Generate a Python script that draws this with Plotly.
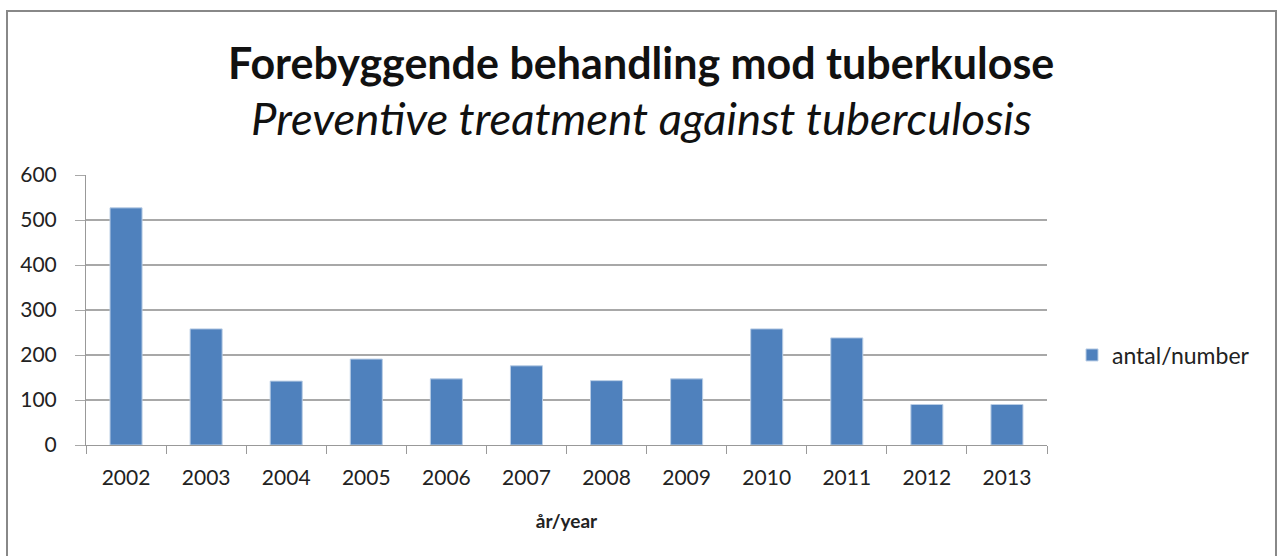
import plotly.graph_objects as go

years = ["2002", "2003", "2004", "2005", "2006", "2007", "2008", "2009", "2010", "2011", "2012", "2013"]
counts = [527, 258, 142, 191, 147, 176, 143, 147, 258, 238, 90, 90]
series_name = "antal/number"
title_main = "Forebyggende behandling mod tuberkulose"
title_sub = "Preventive treatment against tuberculosis"
x_title = "år/year"
y_ticks = [0, 100, 200, 300, 400, 500, 600]

FONT = "Lato, 'Open Sans', sans-serif"

fig = go.Figure()
fig.add_trace(go.Bar(
    x=years, y=counts, name=series_name,
    marker=dict(color="#4F81BD", line=dict(color="#B9CDE5", width=1)),
    showlegend=True,
))

L, R, T, B = 86, 1047, 175, 445
W, H = 1278, 556
pw, ph = R - L, B - T

def px(x):
    return (x - L) / pw

def py(y):
    return (B - y) / ph

fig.update_layout(
    width=W, height=H,
    margin=dict(l=L, r=W - R, t=T, b=H - B, pad=0),
    paper_bgcolor="white", plot_bgcolor="white",
    font=dict(family=FONT, size=20, color="#222"),
    bargap=0.6,
    showlegend=True,
    legend=dict(x=px(1072), y=py(355), xanchor="left", yanchor="middle",
                font=dict(size=23, color="#222"), bgcolor="rgba(0,0,0,0)",
                itemwidth=30),
    xaxis=dict(
        type="category", showgrid=False, showline=True, linecolor="#999", linewidth=1,
        ticks="outside", tickson="boundaries", ticklen=8, tickcolor="#999",
        tickfont=dict(size=21, color="#222"), ticklabelstandoff=14,
        title=dict(text="<b>" + x_title + "</b>", font=dict(size=19, color="#222"), standoff=26),
    ),
    yaxis=dict(
        range=[0, 600], tickvals=y_ticks, showgrid=True, gridcolor="#A8A8A8", gridwidth=1.5,
        showline=True, linecolor="#999", linewidth=1, ticks="outside", ticklen=10,
        tickcolor="#A8A8A8", tickfont=dict(size=21, color="#222"), ticklabelstandoff=14,
        zeroline=False,
    ),
    annotations=[
        dict(text="<b>" + title_main + "</b>", xref="paper", yref="paper",
             x=px(641), y=py(62), xanchor="center", yanchor="middle", showarrow=False,
             font=dict(size=43, color="#111", family=FONT)),
        dict(text="<i>" + title_sub + "</i>", xref="paper", yref="paper",
             x=px(641), y=py(117), xanchor="center", yanchor="middle", showarrow=False,
             font=dict(size=45.5, color="#111", family=FONT)),
    ],
    shapes=[
        dict(type="path", xref="paper", yref="paper",
             path=f"M {px(7)} {py(600)} L {px(7)} {py(11)} L {px(1276)} {py(11)} L {px(1276)} {py(600)}",
             line=dict(color="#888", width=2)),
    ],
)

fig.write_html(
    "out.html",
    config={"displayModeBar": False},
    post_script="document.body.style.margin='0';document.body.style.overflow='hidden';",
)
